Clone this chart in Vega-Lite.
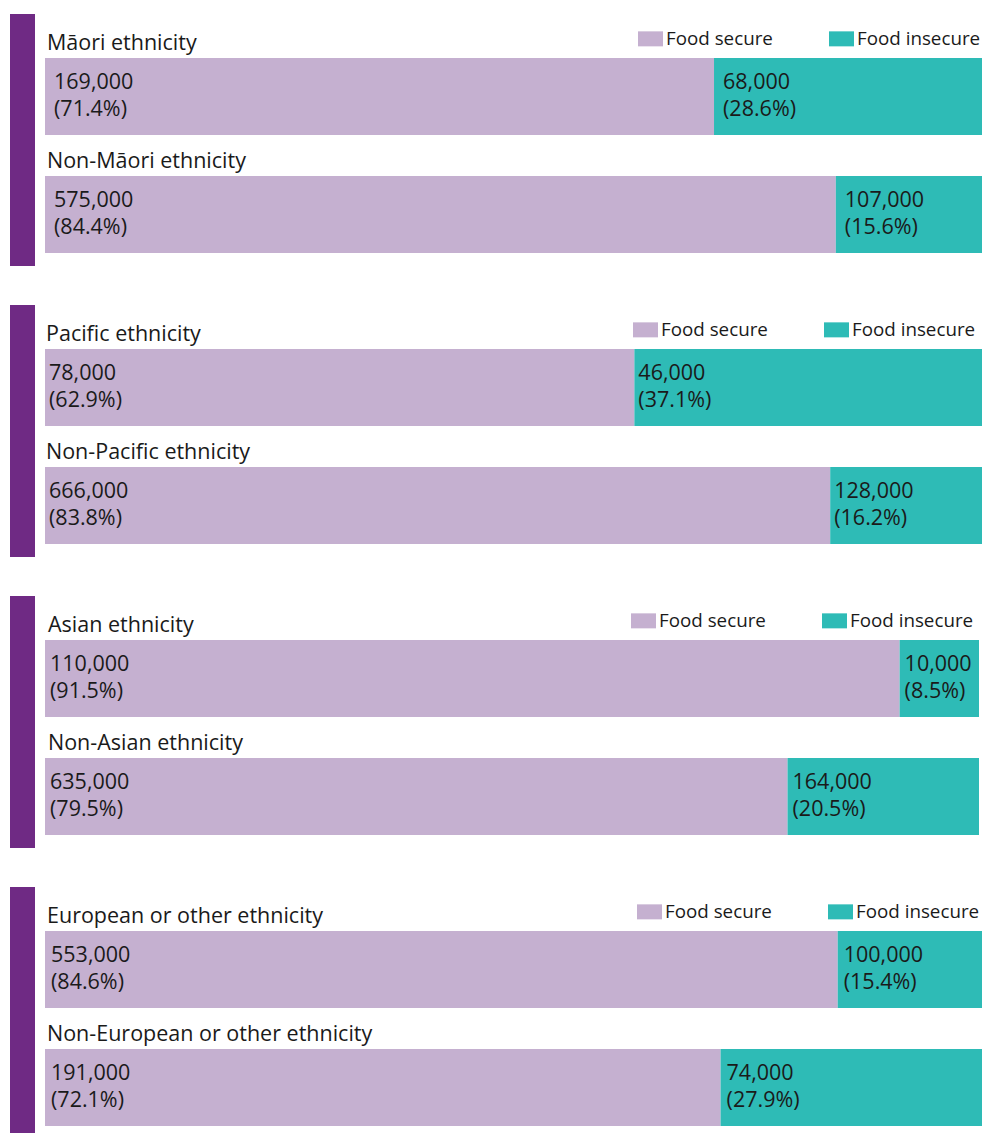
{
  "$schema": "https://vega.github.io/schema/vega-lite/v6.json",
  "padding": {"left": 10, "top": 14, "right": 0, "bottom": 0},
  "autosize": {"type": "pad"},
  "background": "white",
  "config": {"view": {"stroke": null}, "font": "Open Sans"},
  "datasets": {
    "food": [
      {"panel": 1, "group": "Māori ethnicity", "status": "Food secure", "order": 1, "pct": 71.4, "label": "169,000\n(71.4%)"},
      {"panel": 1, "group": "Māori ethnicity", "status": "Food insecure", "order": 2, "pct": 28.6, "label": "68,000\n(28.6%)"},
      {"panel": 1, "group": "Non-Māori ethnicity", "status": "Food secure", "order": 1, "pct": 84.4, "label": "575,000\n(84.4%)"},
      {"panel": 1, "group": "Non-Māori ethnicity", "status": "Food insecure", "order": 2, "pct": 15.6, "label": "107,000\n(15.6%)"},
      {"panel": 2, "group": "Pacific ethnicity", "status": "Food secure", "order": 1, "pct": 62.9, "label": "78,000\n(62.9%)"},
      {"panel": 2, "group": "Pacific ethnicity", "status": "Food insecure", "order": 2, "pct": 37.1, "label": "46,000\n(37.1%)"},
      {"panel": 2, "group": "Non-Pacific ethnicity", "status": "Food secure", "order": 1, "pct": 83.8, "label": "666,000\n(83.8%)"},
      {"panel": 2, "group": "Non-Pacific ethnicity", "status": "Food insecure", "order": 2, "pct": 16.2, "label": "128,000\n(16.2%)"},
      {"panel": 3, "group": "Asian ethnicity", "status": "Food secure", "order": 1, "pct": 91.5, "label": "110,000\n(91.5%)"},
      {"panel": 3, "group": "Asian ethnicity", "status": "Food insecure", "order": 2, "pct": 8.5, "label": "10,000\n(8.5%)"},
      {"panel": 3, "group": "Non-Asian ethnicity", "status": "Food secure", "order": 1, "pct": 79.5, "label": "635,000\n(79.5%)"},
      {"panel": 3, "group": "Non-Asian ethnicity", "status": "Food insecure", "order": 2, "pct": 20.5, "label": "164,000\n(20.5%)"},
      {"panel": 4, "group": "European or other ethnicity", "status": "Food secure", "order": 1, "pct": 84.6, "label": "553,000\n(84.6%)"},
      {"panel": 4, "group": "European or other ethnicity", "status": "Food insecure", "order": 2, "pct": 15.4, "label": "100,000\n(15.4%)"},
      {"panel": 4, "group": "Non-European or other ethnicity", "status": "Food secure", "order": 1, "pct": 72.1, "label": "191,000\n(72.1%)"},
      {"panel": 4, "group": "Non-European or other ethnicity", "status": "Food insecure", "order": 2, "pct": 27.9, "label": "74,000\n(27.9%)"}
    ]
  },
  "vconcat": [
    {
      "hconcat": [
        {"data": {"values": [{}]}, "width": 25, "height": 252, "mark": {"type": "rect", "color": "#6f2a84"},
         "encoding": {"x": {"value": 0}, "x2": {"value": "width"}, "y": {"value": 0}, "y2": {"value": "height"}}},
        {"data": {"name": "food"}, "width": 937, "height": 252,
         "transform": [{"filter": "datum.panel == 1"}, {"stack": "pct", "groupby": ["group"], "sort": [{"field": "order", "order": "ascending"}], "as": ["x0", "x1"]}],
         "layer": [
           {"mark": {"type": "bar"},
            "encoding": {
              "y": {"field": "group", "type": "nominal", "sort": null, "axis": null, "scale": {"paddingInner": 0.3475, "paddingOuter": 0.2415, "align": 0.772}},
              "x": {"field": "x0", "type": "quantitative", "axis": null, "scale": {"domain": [0, 100], "nice": false, "zero": false}},
              "x2": {"field": "x1"},
              "color": {"field": "status", "type": "nominal", "scale": {"domain": ["Food secure", "Food insecure"], "range": ["#c5b0d0", "#2ebbb6"]},
                "legend": {"orient": "none", "legendX": 593, "legendY": 12, "direction": "horizontal", "title": null, "symbolType": "M-1,-0.6H1V0.6H-1Z", "symbolSize": 625, "symbolStrokeWidth": 0, "symbolOpacity": 1, "labelFontSize": 18.8, "labelFont": "Open Sans", "labelColor": "#1a1a1a", "labelOffset": 3, "columnPadding": 56, "padding": 0}}
            }},
           {"mark": {"type": "text", "align": "left", "baseline": "alphabetic", "dx": 9, "dy": 31, "fontSize": 21.5, "lineBreak": "\n", "lineHeight": 27, "color": "#1a1a1a"},
            "encoding": {
              "y": {"field": "group", "type": "nominal", "sort": null, "bandPosition": 0},
              "x": {"field": "x0", "type": "quantitative"},
              "text": {"field": "label"}
            }},
           {"transform": [{"filter": "datum.order == 1"}],
            "mark": {"type": "text", "align": "left", "baseline": "alphabetic", "dx": 2, "dy": -8, "fontSize": 21.5, "color": "#1a1a1a"},
            "encoding": {
              "y": {"field": "group", "type": "nominal", "sort": null, "bandPosition": 0},
              "x": {"field": "x0", "type": "quantitative"},
              "text": {"field": "group"}
            }}
         ]}
      ],
      "spacing": 10,
      "resolve": {"legend": {"color": "independent"}}
    },
    {
      "hconcat": [
        {"data": {"values": [{}]}, "width": 25, "height": 252, "mark": {"type": "rect", "color": "#6f2a84"},
         "encoding": {"x": {"value": 0}, "x2": {"value": "width"}, "y": {"value": 0}, "y2": {"value": "height"}}},
        {"data": {"name": "food"}, "width": 937, "height": 252,
         "transform": [{"filter": "datum.panel == 2"}, {"stack": "pct", "groupby": ["group"], "sort": [{"field": "order", "order": "ascending"}], "as": ["x0", "x1"]}],
         "layer": [
           {"mark": {"type": "bar"},
            "encoding": {
              "y": {"field": "group", "type": "nominal", "sort": null, "axis": null, "scale": {"paddingInner": 0.3475, "paddingOuter": 0.2415, "align": 0.772}},
              "x": {"field": "x0", "type": "quantitative", "axis": null, "scale": {"domain": [0, 100], "nice": false, "zero": false}},
              "x2": {"field": "x1"},
              "color": {"field": "status", "type": "nominal", "scale": {"domain": ["Food secure", "Food insecure"], "range": ["#c5b0d0", "#2ebbb6"]},
                "legend": {"orient": "none", "legendX": 588, "legendY": 12, "direction": "horizontal", "title": null, "symbolType": "M-1,-0.6H1V0.6H-1Z", "symbolSize": 625, "symbolStrokeWidth": 0, "symbolOpacity": 1, "labelFontSize": 18.8, "labelFont": "Open Sans", "labelColor": "#1a1a1a", "labelOffset": 3, "columnPadding": 56, "padding": 0}}
            }},
           {"mark": {"type": "text", "align": "left", "baseline": "alphabetic", "dx": 4, "dy": 31, "fontSize": 21.5, "lineBreak": "\n", "lineHeight": 27, "color": "#1a1a1a"},
            "encoding": {
              "y": {"field": "group", "type": "nominal", "sort": null, "bandPosition": 0},
              "x": {"field": "x0", "type": "quantitative"},
              "text": {"field": "label"}
            }},
           {"transform": [{"filter": "datum.order == 1"}],
            "mark": {"type": "text", "align": "left", "baseline": "alphabetic", "dx": 1, "dy": -8, "fontSize": 21.5, "color": "#1a1a1a"},
            "encoding": {
              "y": {"field": "group", "type": "nominal", "sort": null, "bandPosition": 0},
              "x": {"field": "x0", "type": "quantitative"},
              "text": {"field": "group"}
            }}
         ]}
      ],
      "spacing": 10,
      "resolve": {"legend": {"color": "independent"}}
    },
    {
      "hconcat": [
        {"data": {"values": [{}]}, "width": 25, "height": 252, "mark": {"type": "rect", "color": "#6f2a84"},
         "encoding": {"x": {"value": 0}, "x2": {"value": "width"}, "y": {"value": 0}, "y2": {"value": "height"}}},
        {"data": {"name": "food"}, "width": 934, "height": 252,
         "transform": [{"filter": "datum.panel == 3"}, {"stack": "pct", "groupby": ["group"], "sort": [{"field": "order", "order": "ascending"}], "as": ["x0", "x1"]}],
         "layer": [
           {"mark": {"type": "bar"},
            "encoding": {
              "y": {"field": "group", "type": "nominal", "sort": null, "axis": null, "scale": {"paddingInner": 0.3475, "paddingOuter": 0.2415, "align": 0.772}},
              "x": {"field": "x0", "type": "quantitative", "axis": null, "scale": {"domain": [0, 100], "nice": false, "zero": false}},
              "x2": {"field": "x1"},
              "color": {"field": "status", "type": "nominal", "scale": {"domain": ["Food secure", "Food insecure"], "range": ["#c5b0d0", "#2ebbb6"]},
                "legend": {"orient": "none", "legendX": 586, "legendY": 12, "direction": "horizontal", "title": null, "symbolType": "M-1,-0.6H1V0.6H-1Z", "symbolSize": 625, "symbolStrokeWidth": 0, "symbolOpacity": 1, "labelFontSize": 18.8, "labelFont": "Open Sans", "labelColor": "#1a1a1a", "labelOffset": 3, "columnPadding": 56, "padding": 0}}
            }},
           {"mark": {"type": "text", "align": "left", "baseline": "alphabetic", "dx": 5, "dy": 31, "fontSize": 21.5, "lineBreak": "\n", "lineHeight": 27, "color": "#1a1a1a"},
            "encoding": {
              "y": {"field": "group", "type": "nominal", "sort": null, "bandPosition": 0},
              "x": {"field": "x0", "type": "quantitative"},
              "text": {"field": "label"}
            }},
           {"transform": [{"filter": "datum.order == 1"}],
            "mark": {"type": "text", "align": "left", "baseline": "alphabetic", "dx": 3, "dy": -8, "fontSize": 21.5, "color": "#1a1a1a"},
            "encoding": {
              "y": {"field": "group", "type": "nominal", "sort": null, "bandPosition": 0},
              "x": {"field": "x0", "type": "quantitative"},
              "text": {"field": "group"}
            }}
         ]}
      ],
      "spacing": 10,
      "resolve": {"legend": {"color": "independent"}}
    },
    {
      "hconcat": [
        {"data": {"values": [{}]}, "width": 25, "height": 252, "mark": {"type": "rect", "color": "#6f2a84"},
         "encoding": {"x": {"value": 0}, "x2": {"value": "width"}, "y": {"value": 0}, "y2": {"value": "height"}}},
        {"data": {"name": "food"}, "width": 937, "height": 252,
         "transform": [{"filter": "datum.panel == 4"}, {"stack": "pct", "groupby": ["group"], "sort": [{"field": "order", "order": "ascending"}], "as": ["x0", "x1"]}],
         "layer": [
           {"mark": {"type": "bar"},
            "encoding": {
              "y": {"field": "group", "type": "nominal", "sort": null, "axis": null, "scale": {"paddingInner": 0.3475, "paddingOuter": 0.2415, "align": 0.772}},
              "x": {"field": "x0", "type": "quantitative", "axis": null, "scale": {"domain": [0, 100], "nice": false, "zero": false}},
              "x2": {"field": "x1"},
              "color": {"field": "status", "type": "nominal", "scale": {"domain": ["Food secure", "Food insecure"], "range": ["#c5b0d0", "#2ebbb6"]},
                "legend": {"orient": "none", "legendX": 592, "legendY": 12, "direction": "horizontal", "title": null, "symbolType": "M-1,-0.6H1V0.6H-1Z", "symbolSize": 625, "symbolStrokeWidth": 0, "symbolOpacity": 1, "labelFontSize": 18.8, "labelFont": "Open Sans", "labelColor": "#1a1a1a", "labelOffset": 3, "columnPadding": 56, "padding": 0}}
            }},
           {"mark": {"type": "text", "align": "left", "baseline": "alphabetic", "dx": 6, "dy": 31, "fontSize": 21.5, "lineBreak": "\n", "lineHeight": 27, "color": "#1a1a1a"},
            "encoding": {
              "y": {"field": "group", "type": "nominal", "sort": null, "bandPosition": 0},
              "x": {"field": "x0", "type": "quantitative"},
              "text": {"field": "label"}
            }},
           {"transform": [{"filter": "datum.order == 1"}],
            "mark": {"type": "text", "align": "left", "baseline": "alphabetic", "dx": 2, "dy": -8, "fontSize": 21.5, "color": "#1a1a1a"},
            "encoding": {
              "y": {"field": "group", "type": "nominal", "sort": null, "bandPosition": 0},
              "x": {"field": "x0", "type": "quantitative"},
              "text": {"field": "group"}
            }}
         ]}
      ],
      "spacing": 10,
      "resolve": {"legend": {"color": "independent"}}
    }
  ],
  "spacing": 39,
  "resolve": {"legend": {"color": "independent"}}
}
